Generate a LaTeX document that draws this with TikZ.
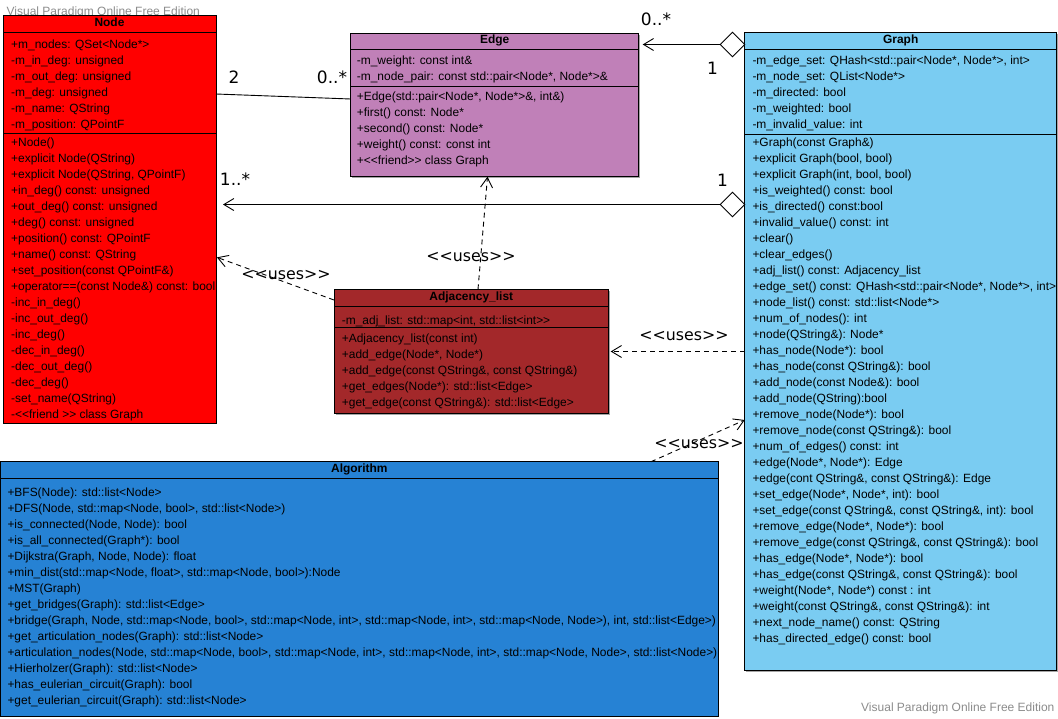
\documentclass[tikz,border=0pt]{standalone}
\usepackage{fontspec}
\newfontfamily\umlfont{Liberation Sans}
\newfontfamily\lblfont{DejaVu Sans}
\usetikzlibrary{arrows.meta,shapes.geometric}
\definecolor{nodered}{RGB}{255,0,0}
\definecolor{edgepink}{RGB}{192,128,184}
\definecolor{graphblue}{RGB}{122,204,242}
\definecolor{adjred}{RGB}{163,40,42}
\definecolor{algoblue}{RGB}{38,130,212}
\tikzset{
 umltext/.style={font=\umlfont\fontsize{11.95}{14}\selectfont, anchor=base west, inner sep=0pt, text=black},
 umltitle/.style={font=\umlfont\bfseries\fontsize{11.95}{14}\selectfont, anchor=base, inner sep=0pt, text=black},
 classbox/.style={draw=black, line width=0.9pt, anchor=north west, inner sep=0pt, outer sep=0pt},
 sepline/.style={draw=black, line width=0.9pt},
 assoc/.style={draw=black, line width=0.9pt},
 openarrow/.style={-{Straight Barb[length=10pt,width=12pt,line width=0.9pt]}},
 dep/.style={assoc, dash pattern=on 5pt off 4pt, openarrow},
 multlbl/.style={font=\lblfont\fontsize{17}{20}\selectfont, inner sep=0pt, text=black},
 useslbl/.style={font=\lblfont\fontsize{15.8}{18}\selectfont, inner sep=0pt, text=black},
 aggr/.style={diamond, draw=black, fill=white, line width=0.9pt, minimum width=25pt, minimum height=25pt, inner sep=0pt},
 watermark/.style={font=\umlfont\fontsize{12}{14}\selectfont, text=black!45, inner sep=0pt, anchor=base west},
 shadowc/.style={fill=black!35}
}
\newcommand\umllines[4]{\foreach \txt [count=\i] in {#4}{\node[umltext] (#1\i) at (#2,{#3+16*(\i-1)+4}) {\txt};}}
\begin{document}
\begin{tikzpicture}[x=1pt,y=-1pt]
\useasboundingbox (0,0) rectangle (1058,718);
\fill[white] (0,0) rectangle (1058,718);
% watermarks
\node[watermark] (wm1) at (6.5,15.5) {Visual Paradigm Online Free Edition};
\node[watermark] (wm2) at (861,711) {Visual Paradigm Online Free Edition};
% shadows
\fill[shadowc] (352.2,34.5) rectangle (640.2,178.2);
\fill[shadowc] (746.2,34) rectangle (1058,671.5);
\fill[shadowc] (335.5,290.8) rectangle (610.2,414.8);

% ---------- Node ----------
\node[classbox, fill=nodered, minimum width=213pt, minimum height=408.3pt] (cNode) at (3,15) {};
\draw[sepline] (cNode.west |- 0,32.7) -- (cNode.east |- 0,32.7);
\draw[sepline] (cNode.west |- 0,133.3) -- (cNode.east |- 0,133.3);
\node[umltitle] (tNode) at (109.5,26) {Node};
\umllines{nA}{11}{44}{+m\_nodes: QSet<Node*>, -m\_in\_deg: unsigned, -m\_out\_deg: unsigned, -m\_deg: unsigned, -m\_name: QString, -m\_position: QPointF}
\umllines{nM}{11}{142}{+Node(), +explicit Node(QString), {+explicit Node(QString, QPointF)}, +in\_deg() const: unsigned, +out\_deg() const: unsigned, +deg() const: unsigned, +position() const: QPointF, +name() const: QString, +set\_position(const QPointF\&), +operator==(const Node\&) const: bool, -inc\_in\_deg(), -inc\_out\_deg(), -inc\_deg(), -dec\_in\_deg(), -dec\_out\_deg(), -dec\_deg(), -set\_name(QString), -<<friend >> class Graph}

% ---------- Edge ----------
\node[classbox, fill=edgepink, minimum width=288pt, minimum height=143.7pt] (cEdge) at (350.7,33) {};
\draw[sepline] (cEdge.west |- 0,49.3) -- (cEdge.east |- 0,49.3);
\draw[sepline] (cEdge.west |- 0,86.3) -- (cEdge.east |- 0,86.3);
\node[umltitle] (tEdge) at (494.7,43) {Edge};
\umllines{eA}{356.7}{60}{-m\_weight: const int\&, {-m\_node\_pair: const std::pair<Node*, Node*>\&}}
\umllines{eM}{356.7}{96}{{+Edge(std::pair<Node*, Node*>\&, int\&)}, +first() const: Node*, +second() const: Node*, +weight() const: const int, +<<friend>> class Graph}

% ---------- Graph ----------
\node[classbox, fill=graphblue, minimum width=312pt, minimum height=637.5pt] (cGraph) at (744.7,32.5) {};
\draw[sepline] (cGraph.west |- 0,49.3) -- (cGraph.east |- 0,49.3);
\draw[sepline] (cGraph.west |- 0,134.3) -- (cGraph.east |- 0,134.3);
\node[umltitle] (tGraph) at (900.7,43.2) {Graph};
\umllines{gA}{752.3}{60}{{-m\_edge\_set: QHash<std::pair<Node*, Node*>, int>}, -m\_node\_set: QList<Node*>, -m\_directed: bool, -m\_weighted: bool, -m\_invalid\_value: int}
\umllines{gM}{752.3}{142.3}{+Graph(const Graph\&), {+explicit Graph(bool, bool)}, {+explicit Graph(int, bool, bool)}, +is\_weighted() const: bool, +is\_directed() const:bool, +invalid\_value() const: int, +clear(), +clear\_edges(), +adj\_list() const: Adjacency\_list, {+edge\_set() const: QHash<std::pair<Node*, Node*>, int>}, +node\_list() const: std::list<Node*>, +num\_of\_nodes(): int, +node(QString\&): Node*, +has\_node(Node*): bool, +has\_node(const QString\&): bool, +add\_node(const Node\&): bool, +add\_node(QString):bool, +remove\_node(Node*): bool, +remove\_node(const QString\&): bool, +num\_of\_edges() const: int, {+edge(Node*, Node*): Edge}, {+edge(cont QString\&, const QString\&): Edge}, {+set\_edge(Node*, Node*, int): bool}, {+set\_edge(const QString\&, const QString\&, int): bool}, {+remove\_edge(Node*, Node*): bool}, {+remove\_edge(const QString\&, const QString\&): bool}, {+has\_edge(Node*, Node*): bool}, {+has\_edge(const QString\&, const QString\&): bool}, {+weight(Node*, Node*) const : int}, {+weight(const QString\&, const QString\&): int}, +next\_node\_name() const: QString, +has\_directed\_edge() const: bool}

% ---------- Adjacency_list ----------
\node[classbox, fill=adjred, minimum width=274.7pt, minimum height=124pt] (cAdj) at (334,289.3) {};
\draw[sepline] (cAdj.west |- 0,306.7) -- (cAdj.east |- 0,306.7);
\draw[sepline] (cAdj.west |- 0,327.3) -- (cAdj.east |- 0,327.3);
\node[umltitle] (tAdj) at (471.3,300) {Adjacency\_list};
\umllines{aA}{341.7}{320.7}{{-m\_adj\_list: std::map<int, std::list<int>>}}
\umllines{aM}{341.7}{338.3}{+Adjacency\_list(const int), {+add\_edge(Node*, Node*)}, {+add\_edge(const QString\&, const QString\&)}, +get\_edges(Node*): std::list<Edge>, +get\_edge(const QString\&): std::list<Edge>}

% ---------- Algorithm ----------
\node[classbox, fill=algoblue, minimum width=717.8pt, minimum height=255pt] (cAlgo) at (0.5,461.7) {};
\draw[sepline] (cAlgo.west |- 0,478.3) -- (cAlgo.east |- 0,478.3);
\node[umltitle] (tAlgo) at (359.4,472.5) {Algorithm};
\umllines{lM}{7.3}{492}{+BFS(Node): std::list<Node>, {+DFS(Node, std::map<Node, bool>, std::list<Node>)}, {+is\_connected(Node, Node): bool}, +is\_all\_connected(Graph*): bool, {+Dijkstra(Graph, Node, Node): float}, {+min\_dist(std::map<Node, float>, std::map<Node, bool>):Node}, +MST(Graph), +get\_bridges(Graph): std::list<Edge>, {+bridge(Graph, Node, std::map<Node, bool>, std::map<Node, int>, std::map<Node, int>, std::map<Node, Node>), int, std::list<Edge>)}, +get\_articulation\_nodes(Graph): std::list<Node>, {+articulation\_nodes(Node, std::map<Node, bool>, std::map<Node, int>, std::map<Node, int>, std::map<Node, Node>, std::list<Node>)}, +Hierholzer(Graph): std::list<Node>, +has\_eulerian\_circuit(Graph): bool, +get\_eulerian\_circuit(Graph): std::list<Node>}

% ---------- diamonds ----------
\node[aggr] (d1) at (732.5,44.5) {};
\node[aggr] (d2) at (732.5,204.5) {};

% ---------- connectors ----------
\draw[assoc] (cNode.east |- 0,94) -- (cEdge.west |- 0,99);
\draw[assoc, openarrow, shorten >=4pt] (d1.west) -- (cEdge.east |- d1.west);
\draw[assoc, openarrow, shorten >=7pt] (d2.west) -- (cNode.east |- d2.west);
\draw[dep] (478,0 |- cAdj.north) -- (487.5,0 |- cEdge.south);
\draw[dep, shorten >=1pt] (cAdj.west |- 0,300) -- (cNode.east |- 0,257);
\draw[dep, shorten >=2pt] (cGraph.west |- 0,351.5) -- (cAdj.east |- 0,351.5);
\draw[dep] (651,0 |- cAlgo.north) -- (cGraph.west |- 0,420);

% ---------- labels ----------
\node[multlbl] (m1) at (234,77) {2};
\node[multlbl] (m2) at (332,77) {0..*};
\node[multlbl] (m3) at (656,19.5) {0..*};
\node[multlbl] (m4) at (712.5,68) {1};
\node[multlbl] (m5) at (235,179) {1..*};
\node[multlbl] (m6) at (722.5,180) {1};
\node[useslbl] (u1) at (471,257) {<<uses>>};
\node[useslbl] (u2) at (286,275) {<<uses>>};
\node[useslbl] (u3) at (684,336) {<<uses>>};
\node[useslbl] (u4) at (699,444) {<<uses>>};
\end{tikzpicture}
\end{document}
